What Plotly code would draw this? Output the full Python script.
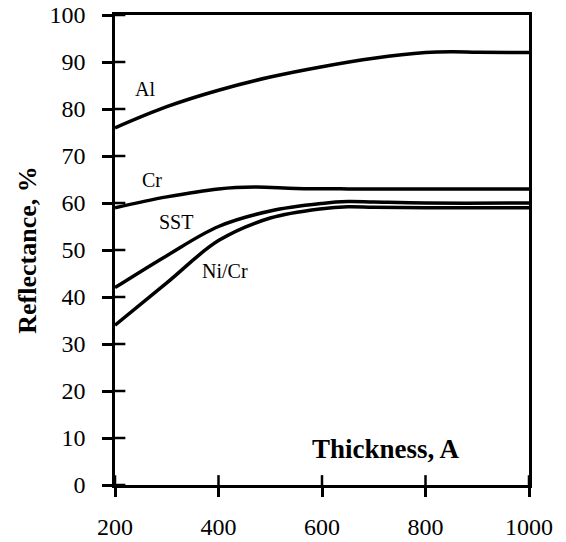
import plotly.graph_objects as go

thickness_al = [200, 300, 400, 500, 600, 700, 800, 850, 900, 1000]
refl_al = [76, 80.5, 84, 86.8, 89, 90.8, 92, 92.2, 92.1, 92]

thickness_cr = [200, 300, 400, 470, 550, 650, 800, 1000]
refl_cr = [59, 61.3, 63, 63.4, 63.1, 63, 63, 63]

thickness_sst = [200, 300, 400, 500, 600, 650, 700, 800, 1000]
refl_sst = [42, 48.8, 55, 58.3, 59.9, 60.3, 60.2, 60, 60]

thickness_nicr = [200, 300, 400, 500, 600, 650, 700, 800, 1000]
refl_nicr = [34, 43, 52, 56.8, 58.8, 59.2, 59.1, 59, 59]

x_ticks = [200, 400, 600, 800, 1000]
y_ticks = [0, 10, 20, 30, 40, 50, 60, 70, 80, 90, 100]

labels = ["Al", "Cr", "SST", "Ni/Cr"]
label_x = [258, 272, 318, 413]
label_y = [84.3, 64.9, 56, 45.5]

FONT = "Liberation Serif, Times New Roman, serif"

fig = go.Figure()
for xs, ys, name in [(thickness_al, refl_al, "Al"), (thickness_cr, refl_cr, "Cr"),
                     (thickness_sst, refl_sst, "SST"), (thickness_nicr, refl_nicr, "Ni/Cr")]:
    fig.add_trace(go.Scatter(x=xs, y=ys, mode="lines", name=name,
                             line=dict(color="black", width=3.5, shape="spline", smoothing=1.0),
                             showlegend=False))

for t, lx, ly in zip(labels, label_x, label_y):
    fig.add_annotation(x=lx, y=ly, text=t, showarrow=False,
                       font=dict(family=FONT, size=20, color="black"))

fig.add_annotation(x=724, y=7.7, text="<b>Thickness, A</b>",
                   showarrow=False, font=dict(family=FONT, size=27, color="black"))

# inner halves of the crossing ticks
for xv in x_ticks:
    fig.add_shape(type="line", xref="x", yref="y domain", x0=xv, x1=xv, y0=0, y1=0.021,
                  line=dict(color="black", width=2.5), layer="above")
for yv in y_ticks:
    fig.add_shape(type="line", xref="x domain", yref="y", x0=0, x1=0.025, y0=yv, y1=yv,
                  line=dict(color="black", width=2.5), layer="above")

tick_common = dict(showgrid=False, zeroline=False, tickcolor="black", tickwidth=2.5, automargin=False)

fig.update_layout(
    width=566, height=542,
    margin=dict(l=115, r=37, t=15, b=57),
    paper_bgcolor="white", plot_bgcolor="white",
    font=dict(family=FONT, size=24, color="black"),
    xaxis=dict(range=[200, 1000], tickvals=x_ticks, ticks="outside", ticklen=9, mirror=True,
               showline=True, linecolor="black", linewidth=2.5, ticklabelstandoff=9, **tick_common),
    yaxis=dict(range=[0, 100], tickvals=y_ticks, ticks="outside", ticklen=10, mirror=True,
               showline=True, linecolor="black", linewidth=2.5, ticklabelstandoff=12,
               title=dict(text="<b>Reflectance, %</b>", font=dict(family=FONT, size=26), standoff=6),
               **tick_common),
)

fig.write_html("out.html", config={"displayModeBar": False},
               post_script="document.body.style.margin='0';document.body.style.overflow='hidden';")
